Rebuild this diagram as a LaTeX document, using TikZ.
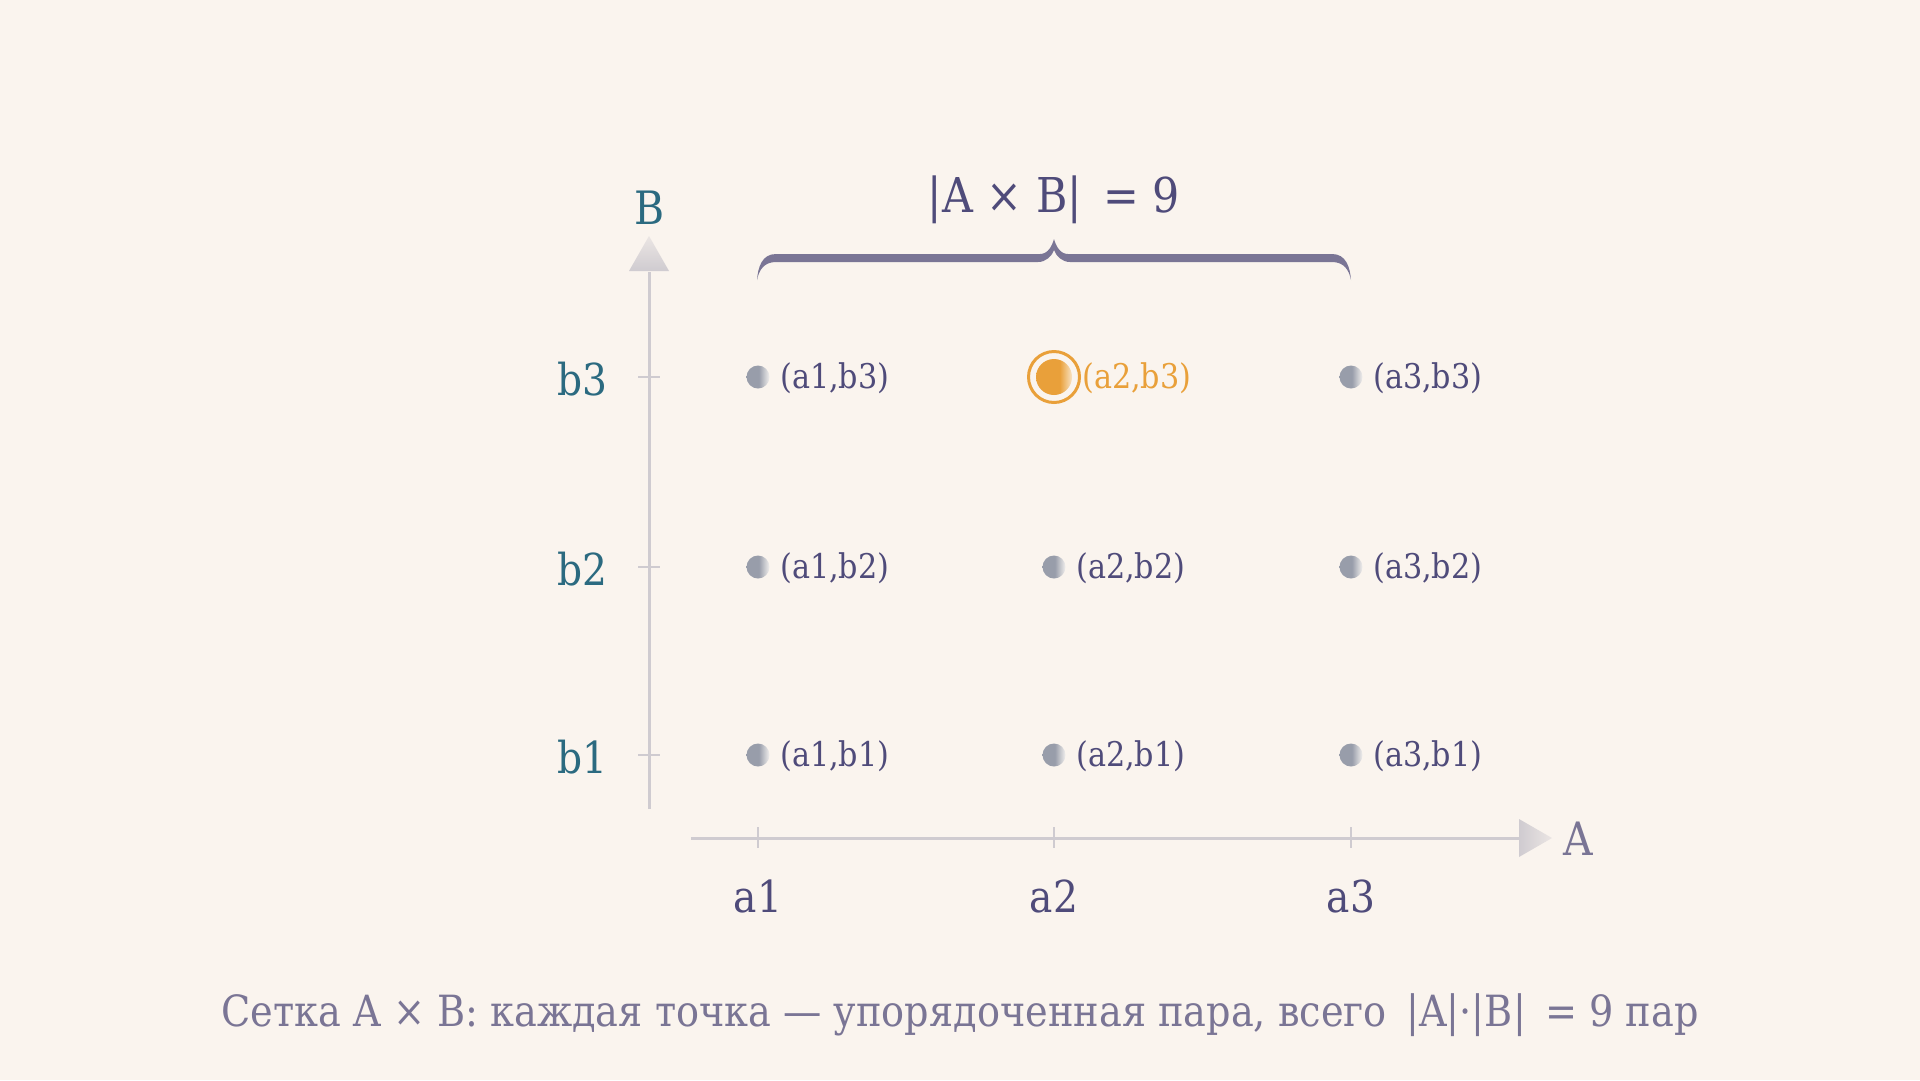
\documentclass[tikz,border=0pt]{standalone}
\usepackage{fontspec}
\setmainfont[FakeStretch=0.89]{DejaVu Serif}
\definecolor{bgc}{HTML}{FAF4EE}
\definecolor{axisc}{HTML}{CFCBD0}
\definecolor{tealc}{HTML}{2B6A80}
\definecolor{purpc}{HTML}{4F4B7A}
\definecolor{bracec}{HTML}{7A7595}
\definecolor{capc}{HTML}{7A7595}
\definecolor{orangec}{HTML}{E9A03A}
\definecolor{dotc}{HTML}{989DAA}
\definecolor{dotlight}{HTML}{F2F0EE}
\definecolor{orangelight}{HTML}{F8E3C4}
\pgfdeclarehorizontalshading{gshade}{100bp}{color(0bp)=(dotc); color(25bp)=(dotc); color(52bp)=(dotc); color(75bp)=(dotlight); color(100bp)=(dotlight)}
\pgfdeclarehorizontalshading{oshade}{100bp}{color(0bp)=(orangec); color(25bp)=(orangec); color(58bp)=(orangec); color(75bp)=(orangelight); color(100bp)=(orangelight)}
\begin{document}
\begin{tikzpicture}[x=1pt,y=-1pt,
  axisline/.style={draw=axisc, line width=3pt},
  tickline/.style={draw=axisc, line width=2.5pt},
  gdot/.style={circle, inner sep=0pt, minimum size=23pt, shading=gshade, shade},
  odot/.style={circle, inner sep=0pt, minimum size=36pt, shading=oshade, shade},
  ptlabel/.style={anchor=base west, inner sep=0pt, text=purpc, font=\fontsize{34}{40}\selectfont},
  alabel/.style={anchor=base, inner sep=0pt, text=purpc, font=\fontsize{44}{50}\selectfont},
  blabel/.style={anchor=base east, inner sep=0pt, text=tealc, font=\fontsize{44}{50}\selectfont},
]
\useasboundingbox (0,0) rectangle (1920,1080);
\fill[bgc] (0,0) rectangle (1920,1080);

% axes
\coordinate (ybot) at (649,809);
\coordinate (ytop) at (649,272);
\coordinate (xleft) at (691,838);
\coordinate (xright) at (1521,838);
\draw[axisline] (ybot) -- (ytop);
\draw[axisline] (xleft) -- (xright);
\shade[bottom color=axisc, top color=axisc!35!bgc] (629,271) -- (669,271) -- (649,236) -- cycle;
\shade[left color=axisc, right color=axisc!35!bgc] (1519,819) -- (1519,857) -- (1552,838) -- cycle;

% ticks
\foreach \yy in {377,567,755} { \draw[tickline] (638,\yy) -- (660,\yy); }
\foreach \xx in {758,1054,1351} { \draw[tickline] (\xx,827) -- (\xx,848); }

% axis labels
\node[anchor=base, inner sep=0pt, text=tealc, font=\fontsize{46}{50}\selectfont] (Blab) at (650,224) {B};
\node[anchor=base, inner sep=0pt, text=bracec, font=\fontsize{46}{50}\selectfont] (Alab) at (1578,855) {A};
\node[blabel] (b3) at (608,395) {b3};
\node[blabel] (b2) at (608,585) {b2};
\node[blabel] (b1) at (608,773) {b1};
\node[alabel] (a1) at (758,912) {a1};
\node[alabel] (a2) at (1054,912) {a2};
\node[alabel] (a3) at (1351,912) {a3};

% points
\node[gdot] (p13) at (758,377) {};
\node[gdot] (p33) at (1351,377) {};
\node[gdot] (p12) at (758,567) {};
\node[gdot] (p22) at (1054,567) {};
\node[gdot] (p32) at (1351,567) {};
\node[gdot] (p11) at (758,755) {};
\node[gdot] (p21) at (1054,755) {};
\node[gdot] (p31) at (1351,755) {};
\draw[orangec, line width=3pt] (1054,377) circle (25.5);
\node[odot] (p23) at (1054,377) {};

\node[ptlabel] (l13) at (780,388) {(a1,b3)};
\node[ptlabel, text=orangec] (l23) at (1082,388) {(a2,b3)};
\node[ptlabel] (l33) at (1373,388) {(a3,b3)};
\node[ptlabel] (l12) at (780,578) {(a1,b2)};
\node[ptlabel] (l22) at (1076,578) {(a2,b2)};
\node[ptlabel] (l32) at (1373,578) {(a3,b2)};
\node[ptlabel] (l11) at (780,766) {(a1,b1)};
\node[ptlabel] (l21) at (1076,766) {(a2,b1)};
\node[ptlabel] (l31) at (1373,766) {(a3,b1)};

% brace
\fill[bracec] (757,280) .. controls (758,267) and (762,254) .. (776,254) -- (1040,254)
  .. controls (1048,254) and (1052,246) .. (1054,239)
  .. controls (1056,246) and (1060,254) .. (1068,254) -- (1332,254)
  .. controls (1346,254) and (1350,267) .. (1351,280)
  .. controls (1349,270) and (1344,262) .. (1332,262) -- (1070,262)
  .. controls (1062,262) and (1056,256) .. (1054,250)
  .. controls (1052,256) and (1046,262) .. (1038,262) -- (776,262)
  .. controls (764,262) and (759,270) .. (757,280) -- cycle;
\node[anchor=base, inner sep=0pt, text=purpc, font=\fontsize{48}{54}\selectfont] (title) at (1054,212) {|A × B|\, = 9};

% caption
\node[anchor=base, inner sep=0pt, text=capc, font=\fontsize{43}{50}\selectfont] (cap) at (960,1026) {Сетка A × B: каждая точка — упорядоченная пара, всего\, |A|·|B|\, = 9 пар};
\end{tikzpicture}
\end{document}
